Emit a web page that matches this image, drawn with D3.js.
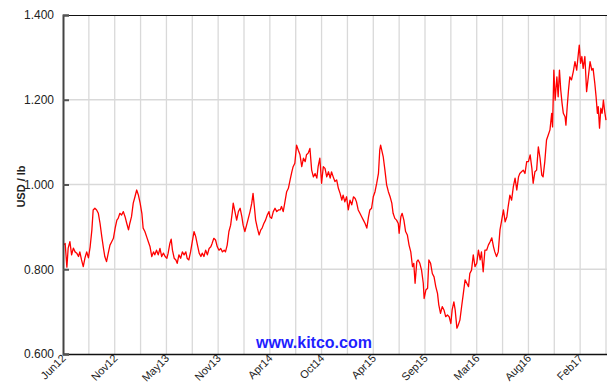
<!DOCTYPE html>
<html>
<head>
<meta charset="utf-8">
<script src="https://cdn.jsdelivr.net/npm/d3@7"></script>
<style>
  html, body { margin: 0; padding: 0; background: #fff; }
  svg { display: block; font-family: "Liberation Sans", Arial, sans-serif; }
</style>
</head>
<body>
<svg id="chart" width="607" height="383"></svg>
<script>
// Copper price, USD per pound, by trading session (5-year window)
const sessions = [
  1, 5, 9, 12, 16, 20, 24, 28, 32, 36, 39, 43, 47, 51, 55, 59, 63, 67, 70, 74,
  78, 82, 86, 90, 94, 97, 101, 105, 109, 113, 117, 121, 125, 128, 132, 136, 140, 144, 148, 152,
  155, 159, 163, 167, 171, 175, 179, 183, 186, 190, 194, 198, 202, 206, 210, 213, 217, 221, 225, 229,
  233, 237, 241, 244, 248, 251, 254, 258, 262, 265, 269, 273, 277, 281, 285, 288, 292, 296, 300, 304,
  308, 312, 316, 320, 323, 327, 331, 335, 339, 343, 346, 350, 354, 358, 362, 366, 370, 374, 377, 381,
  385, 389, 393, 395, 399, 403, 407, 411, 415, 418, 422, 426, 430, 434, 438, 441, 444, 447, 451, 455,
  459, 462, 466, 470, 474, 478, 480, 484, 488, 492, 496, 500, 504, 507, 511, 515, 519, 523, 527, 531,
  534, 538, 542, 546, 550, 554, 558, 562, 565, 569, 573, 577, 581, 585, 589, 592, 596, 600, 604, 608,
  612, 616, 620, 623, 627, 631, 635, 639, 643, 647, 650, 654, 658, 662, 666, 670, 674, 678, 681, 685,
  689, 693, 697, 701, 705, 709, 712, 716, 720, 724, 728, 732, 735, 737, 743, 747, 751, 755, 759, 763,
  766, 770, 774, 778, 780, 784, 787, 791, 795, 799, 803, 807, 811, 814, 817, 821, 824, 828, 832, 836,
  838, 842, 846, 849, 853, 857, 861, 865, 869, 872, 876, 880, 884, 888, 892, 896, 900, 903, 907, 910,
  914, 917, 921, 925, 929, 933, 937, 941, 944, 948, 952, 956, 960, 964, 968, 971, 975, 979, 983, 987,
  991, 995, 999, 1002, 1006, 1010, 1014, 1018, 1022, 1026, 1030, 1033, 1037, 1041, 1045, 1049, 1053, 1057, 1060, 1064,
  1068, 1072, 1076, 1080, 1084, 1088, 1091, 1095, 1099, 1103, 1107, 1111, 1114, 1118, 1122, 1126, 1130, 1134, 1136, 1139,
  1142, 1146, 1149, 1152, 1155, 1158, 1161, 1165, 1167, 1170, 1173, 1176, 1180, 1184, 1188, 1192, 1196, 1198, 1201, 1204,
  1207, 1211, 1215, 1219, 1223, 1227, 1230, 1234, 1237, 1240, 1242, 1245, 1248, 1251, 1254, 1257, 1260
];
const prices = [
  0.857, 0.861, 0.805, 0.850, 0.865, 0.834, 0.850, 0.841, 0.838, 0.830, 0.841, 0.822, 0.806, 0.827, 0.841, 0.827, 0.853, 0.893, 0.940, 0.944,
  0.940, 0.932, 0.908, 0.877, 0.849, 0.830, 0.818, 0.838, 0.857, 0.865, 0.873, 0.897, 0.916, 0.920, 0.932, 0.928, 0.936, 0.924, 0.908, 0.893,
  0.908, 0.924, 0.956, 0.971, 0.987, 0.975, 0.956, 0.932, 0.897, 0.889, 0.877, 0.865, 0.853, 0.830, 0.841, 0.834, 0.845, 0.834, 0.849, 0.830,
  0.838, 0.830, 0.826, 0.838, 0.861, 0.871, 0.845, 0.826, 0.822, 0.814, 0.834, 0.826, 0.841, 0.834, 0.841, 0.826, 0.822, 0.841, 0.865, 0.889,
  0.877, 0.857, 0.838, 0.830, 0.838, 0.830, 0.845, 0.834, 0.849, 0.853, 0.861, 0.873, 0.869, 0.853, 0.845, 0.849, 0.841, 0.845, 0.841, 0.857,
  0.889, 0.904, 0.936, 0.956, 0.936, 0.916, 0.936, 0.944, 0.924, 0.904, 0.889, 0.904, 0.920, 0.936, 0.956, 0.979, 0.948, 0.916, 0.897, 0.881,
  0.893, 0.897, 0.908, 0.916, 0.928, 0.936, 0.924, 0.920, 0.936, 0.944, 0.936, 0.940, 0.940, 0.948, 0.936, 0.959, 0.983, 0.991, 1.011, 1.030,
  1.042, 1.050, 1.093, 1.081, 1.070, 1.042, 1.062, 1.054, 1.070, 1.074, 1.085, 1.034, 1.018, 1.026, 1.015, 1.042, 1.062, 1.003, 1.042, 1.038,
  1.018, 1.030, 1.015, 1.030, 1.018, 1.007, 1.011, 0.991, 0.979, 0.963, 0.975, 0.959, 0.971, 0.940, 0.963, 0.952, 0.971, 0.967, 0.959, 0.940,
  0.932, 0.924, 0.916, 0.908, 0.897, 0.924, 0.940, 0.944, 0.971, 0.983, 1.003, 1.026, 1.081, 1.093, 1.066, 1.034, 0.999, 0.983, 0.971, 0.956,
  0.932, 0.920, 0.916, 0.908, 0.885, 0.924, 0.932, 0.916, 0.889, 0.881, 0.857, 0.841, 0.806, 0.814, 0.767, 0.818, 0.822, 0.814, 0.798, 0.767,
  0.731, 0.751, 0.755, 0.822, 0.814, 0.790, 0.782, 0.759, 0.743, 0.716, 0.696, 0.712, 0.704, 0.688, 0.692, 0.688, 0.672, 0.704, 0.723, 0.704,
  0.661, 0.668, 0.680, 0.712, 0.743, 0.775, 0.767, 0.759, 0.790, 0.798, 0.834, 0.806, 0.814, 0.845, 0.822, 0.841, 0.794, 0.845, 0.845, 0.857,
  0.865, 0.874, 0.853, 0.841, 0.830, 0.841, 0.893, 0.916, 0.940, 0.912, 0.924, 0.948, 0.975, 0.963, 0.995, 1.015, 0.987, 1.018, 1.026, 1.030,
  1.034, 1.026, 1.054, 1.054, 1.070, 1.038, 1.003, 1.030, 1.034, 1.089, 1.062, 1.022, 1.018, 1.054, 1.105, 1.117, 1.129, 1.168, 1.136, 1.270,
  1.199, 1.254, 1.207, 1.270, 1.223, 1.192, 1.168, 1.160, 1.140, 1.184, 1.223, 1.254, 1.247, 1.266, 1.290, 1.270, 1.310, 1.329, 1.286, 1.302,
  1.274, 1.302, 1.219, 1.254, 1.290, 1.270, 1.274, 1.239, 1.207, 1.168, 1.184, 1.133, 1.180, 1.168, 1.199, 1.172, 1.152
];

// Axis labels: one month label every 120 sessions
const monthLabels = ["Jun12", "Nov12", "May13", "Nov13", "Apr14", "Oct14", "Apr15", "Sep15", "Mar16", "Aug16", "Feb17"];
const labelStep = 120;
const gridStep = 60;
const sessionCount = 1260;
const yTicks = [0.6, 0.8, 1.0, 1.2, 1.4];
const yTitle = "USD / lb";
const watermark = "www.kitco.com";

(function draw() {
  const svg = d3.select("#chart");
  const plotLeft = 63, plotRight = 606, plotTop = 15, plotBottom = 354;

  const x = d3.scaleLinear().domain([0, sessionCount]).range([plotLeft, plotRight]);
  const y = d3.scaleLinear().domain([0.6, 1.4]).range([plotBottom, plotTop]);

  // Vertical grid lines
  svg.append("g")
    .selectAll("line")
    .data(d3.range(gridStep, sessionCount + 1, gridStep))
    .join("line")
    .attr("x1", d => x(d)).attr("x2", d => x(d))
    .attr("y1", plotTop).attr("y2", plotBottom)
    .attr("stroke", "#d9d9d9").attr("stroke-width", 1.3);

  // Horizontal grid lines
  svg.append("g")
    .selectAll("line")
    .data(yTicks.slice(1, -1))
    .join("line")
    .attr("x1", plotLeft).attr("x2", plotRight + 2)
    .attr("y1", d => y(d)).attr("y2", d => y(d))
    .attr("stroke", "#d9d9d9").attr("stroke-width", 1.3);

  // Price line
  const line = d3.line()
    .x((d, i) => x(sessions[i]))
    .y(d => y(d));

  svg.append("path")
    .datum(prices)
    .attr("d", line)
    .attr("fill", "none")
    .attr("stroke", "#ff0000")
    .attr("stroke-width", 1.3)
    .attr("stroke-linejoin", "round");

  // Frame: top border and bottom axis
  svg.append("line")
    .attr("x1", plotLeft).attr("x2", 607).attr("y1", plotTop + 0.5).attr("y2", plotTop + 0.5)
    .attr("stroke", "#111").attr("stroke-width", 1.2);
  svg.append("line")
    .attr("x1", plotLeft).attr("x2", 607).attr("y1", plotBottom + 0.5).attr("y2", plotBottom + 0.5)
    .attr("stroke", "#111").attr("stroke-width", 1.4);

  // Y axis with inward ticks
  const yAxis = d3.axisLeft(y)
    .tickValues(yTicks)
    .tickFormat(d3.format(".3f"))
    .tickSize(-6)
    .tickPadding(9);

  const gy = svg.append("g")
    .attr("transform", `translate(${plotLeft},0)`)
    .call(yAxis);
  gy.select(".domain").attr("stroke", "#444").attr("stroke-width", 2);
  gy.selectAll(".tick line").attr("stroke", "#555").attr("stroke-width", 2);
  gy.selectAll(".tick text")
    .attr("font-size", 12)
    .attr("fill", "#222")
    .attr("font-family", "Liberation Sans, Arial, sans-serif");

  // X axis labels, rotated
  const xAxis = d3.axisBottom(x)
    .tickValues(monthLabels.map((m, i) => i * labelStep))
    .tickFormat((d, i) => monthLabels[i])
    .tickSize(0);

  const gx = svg.append("g")
    .attr("transform", `translate(0,${plotBottom})`)
    .call(xAxis);
  gx.select(".domain").remove();
  gx.selectAll(".tick text")
    .attr("font-size", 11)
    .attr("fill", "#222")
    .attr("font-family", "Liberation Sans, Arial, sans-serif")
    .attr("text-anchor", "end")
    .attr("dy", null)
    .attr("y", 0)
    .attr("transform", "translate(3,5) rotate(-45)");

  // Y axis title
  svg.append("text")
    .attr("transform", `translate(25,${(plotTop + plotBottom) / 2 + 2}) rotate(-90)`)
    .attr("text-anchor", "middle")
    .attr("font-size", 11)
    .attr("font-weight", "bold")
    .attr("fill", "#222")
    .text(yTitle);

  // Site watermark
  svg.append("text")
    .attr("x", 314)
    .attr("y", 348)
    .attr("text-anchor", "middle")
    .attr("font-size", 16)
    .attr("font-weight", "bold")
    .attr("fill", "#1f1fff")
    .text(watermark);
})();
</script>
</body>
</html>
